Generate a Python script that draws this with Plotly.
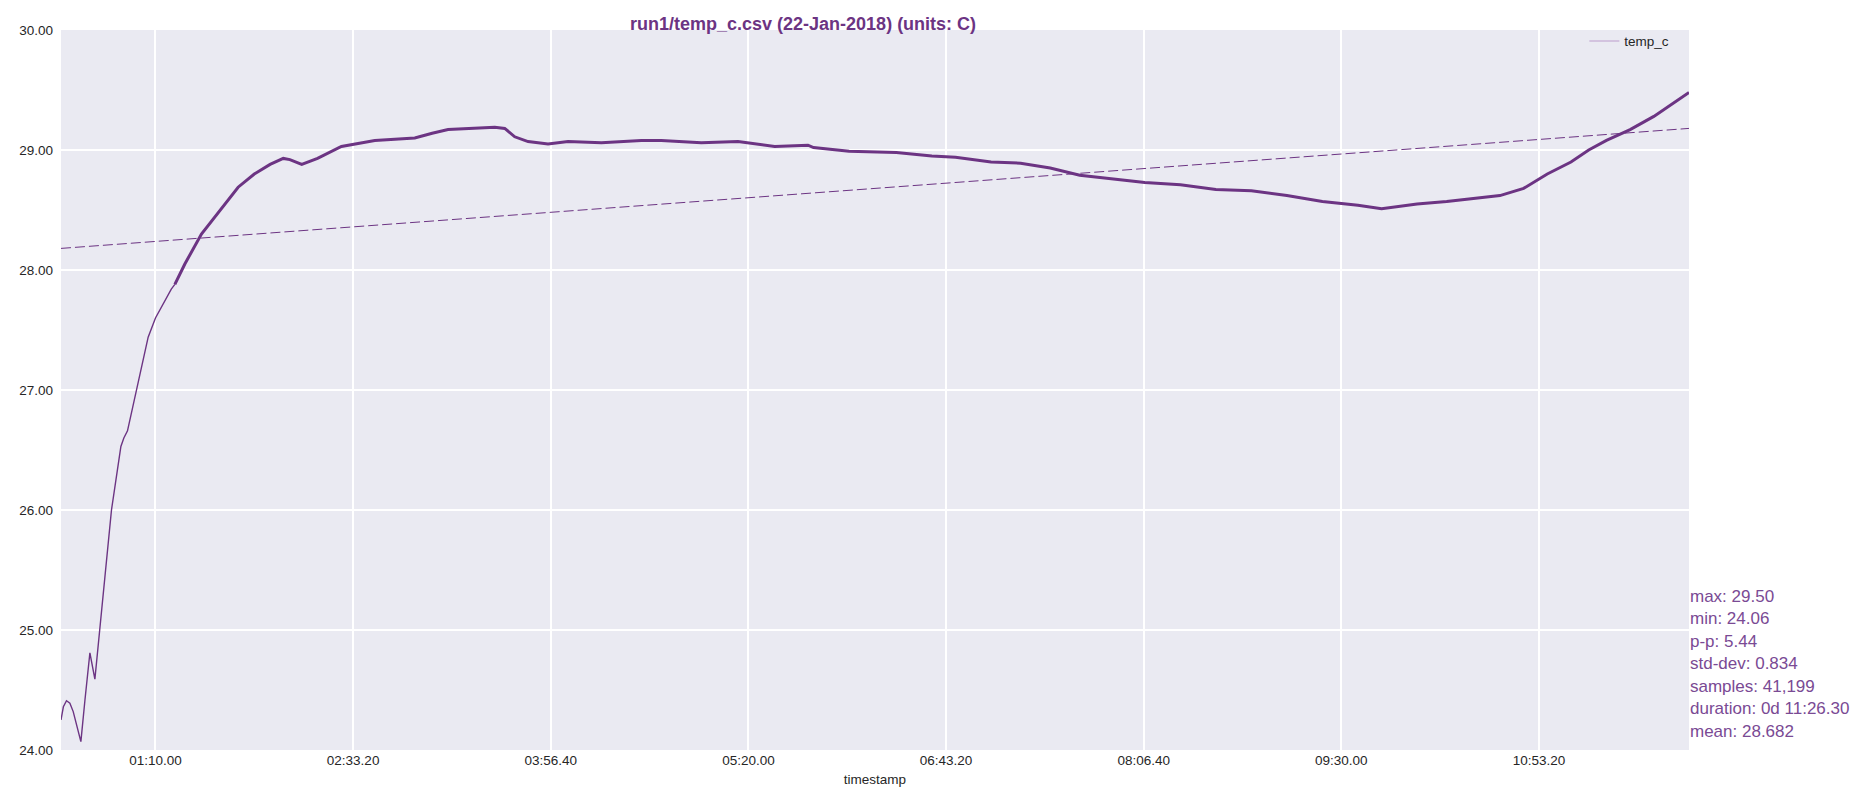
import pandas as pd
import plotly.graph_objects as go

# seconds since midnight, 22-Jan-2018
t_sec = [1810, 1870, 1949, 2035, 2119, 2202, 2313, 2414, 2541, 2667, 2751, 2819, 2920,
         3087, 3325, 3400, 3492, 3762, 4015, 4200, 4438, 4600, 4690, 4943, 5363, 5786,
         6291, 6700, 7100, 7433, 7600, 7900, 8300, 8904, 9749, 10760, 11200, 11602,
         12445, 12784, 13036, 13289, 13626, 14131, 14637, 15480, 16491, 16997, 18008,
         18936, 19865, 20707, 20847, 21745, 22942, 23840, 24439, 25338, 26086, 26835,
         27583, 28481, 29230, 30128, 31026, 31924, 32823, 33721, 34619, 35218, 36116,
         36865, 37464, 38212, 38811, 39410, 40009, 40458, 40907, 41506, 42105, 42554,
         42995]
temp_c = [24.25, 24.36, 24.41, 24.39, 24.32, 24.21, 24.07, 24.41, 24.81, 24.59, 24.90,
          25.10, 25.44, 26.00, 26.53, 26.60, 26.66, 27.07, 27.44, 27.60, 27.74, 27.84,
          27.88, 28.05, 28.30, 28.48, 28.69, 28.80, 28.88, 28.93, 28.92, 28.88, 28.93,
          29.03, 29.08, 29.10, 29.14, 29.17, 29.18, 29.19, 29.18, 29.11, 29.07, 29.05,
          29.07, 29.06, 29.08, 29.08, 29.06, 29.07, 29.03, 29.04, 29.02, 28.99, 28.98,
          28.95, 28.94, 28.90, 28.89, 28.85, 28.79, 28.76, 28.73, 28.71, 28.67, 28.66,
          28.62, 28.57, 28.54, 28.51, 28.55, 28.57, 28.59, 28.62, 28.68, 28.80, 28.90,
          29.00, 29.08, 29.17, 29.28, 29.38, 29.48]

trend_sec = [1810, 42995]
trend_c = [28.18, 29.18]

stats = ["max: 29.50", "min: 24.06", "p-p: 5.44", "std-dev: 0.834",
         "samples: 41,199", "duration: 0d 11:26.30", "mean: 28.682"]

day = pd.Timestamp("2018-01-22")
x = day + pd.to_timedelta(t_sec, unit="s")
xt = day + pd.to_timedelta(trend_sec, unit="s")

purple = "#6c3483"
fnt = "Liberation Sans, Arial, sans-serif"

# warm-up part is quiet, the rest is a noisy band -> draw it thicker
split = 23
fig = go.Figure()
fig.add_trace(go.Scatter(x=x[:split], y=temp_c[:split], mode="lines", showlegend=False,
                         line=dict(color=purple, width=1.4)))
fig.add_trace(go.Scatter(x=x[split - 1:], y=temp_c[split - 1:], mode="lines",
                         showlegend=False, line=dict(color=purple, width=3)))
fig.add_trace(go.Scatter(x=xt, y=trend_c, mode="lines", showlegend=False,
                         line=dict(color=purple, width=1, dash="10px,4px")))
# legend handle (line drawn with alpha in the original)
fig.add_trace(go.Scatter(x=[None], y=[None], mode="lines", name="temp_c",
                         line=dict(color="#cbb6d8", width=1.5)))

fig.add_annotation(text="<b>run1/temp_c.csv (22-Jan-2018) (units: C)</b>",
                   xref="paper", yref="paper", x=0.456, y=1.008, showarrow=False,
                   xanchor="center", yanchor="middle",
                   font=dict(size=18, color=purple, family=fnt))
for i, s in enumerate(stats):
    fig.add_annotation(text=s, xref="paper", yref="paper",
                       x=0.9995, y=(742 - (588 + 22.5 * i)) / 720,
                       xanchor="left", yanchor="middle", align="left",
                       showarrow=False, font=dict(size=17, color="#7a4a94", family=fnt))

fig.update_layout(
    width=1858, height=797,
    margin=dict(l=53, r=177, t=22, b=55),
    paper_bgcolor="white", plot_bgcolor="#eaeaf2",
    font=dict(family=fnt, size=13.5, color="#262626"),
    legend=dict(x=0.991, y=1.006, xanchor="right", yanchor="top",
                bgcolor="rgba(0,0,0,0)", font=dict(size=13.5)),
)
fig.update_xaxes(
    type="date", range=[x[0], x[-1]],
    tick0="2018-01-22 01:10:00", dtick=5000000, tickformat="%H:%M.%S",
    showgrid=True, gridcolor="white", gridwidth=1.5, zeroline=False,
    ticks="", showline=False,
    title=dict(text="timestamp", font=dict(size=13.5), standoff=8),
)
fig.update_yaxes(
    range=[24, 30], dtick=1, tickformat=".2f",
    showgrid=True, gridcolor="white", gridwidth=1.5, zeroline=False,
    ticks="", showline=False, ticklabelstandoff=7,
)

fig.write_html("out.html")
